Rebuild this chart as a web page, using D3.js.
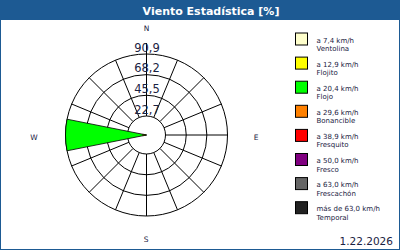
<!DOCTYPE html>
<html>
<head>
<meta charset="utf-8">
<script src="https://cdn.jsdelivr.net/npm/d3@7"></script>
<style>
  body { margin: 0; background: #fff; }
  svg { display: block; }
</style>
</head>
<body>
<svg id="chart" width="400" height="250"></svg>
<script>
// 16 wind directions, clockwise from N
var dirs = ["N","NNE","NE","ENE","E","ESE","SE","SSE","S","SSW","SW","WSW","W","WNW","NW","NNW"];

// speed bands (legend)
var bandLabels = ["a 7,4 km/h","a 12,9 km/h","a 20,4 km/h","a 29,6 km/h","a 38,9 km/h","a 50,0 km/h","a 63,0 km/h","más de 63,0 km/h"];
var bandNames = ["Ventolina","Flojito","Flojo","Bonancible","Fresquito","Fresco","Frescachón","Temporal"];
var bandColors = ["#ffffcc","#ffff00","#00ff00","#ff8000","#ff0000","#800080","#666666","#222222"];

// percent per direction for each band
var ventolina  = [0,0,0,0,0,0,0,0,0,0,0,0,1.5,0,0,0];
var flojito    = [0,0,0,0,0,0,0,0,0,0,0,0,4.5,0,0,0];
var flojo      = [0,0,0,0,0,0,0,0,0,0,0,0,84.9,0,0,0];
var bonancible = [0,0,0,0,0,0,0,0,0,0,0,0,0,0,0,0];
var fresquito  = [0,0,0,0,0,0,0,0,0,0,0,0,0,0,0,0];
var fresco     = [0,0,0,0,0,0,0,0,0,0,0,0,0,0,0,0];
var frescachon = [0,0,0,0,0,0,0,0,0,0,0,0,0,0,0,0];
var temporal   = [0,0,0,0,0,0,0,0,0,0,0,0,0,0,0,0];
var bandValues = [ventolina, flojito, flojo, bonancible, fresquito, fresco, frescachon, temporal];

var ringTicks = [22.7, 45.5, 68.2, 90.9];
var dateLabel = "1.22.2026";

var svg = d3.select("#chart");
var W = 400, H = 250;

// frame + title bar
svg.append("rect").attr("x", 0.5).attr("y", 0.5).attr("width", W - 1).attr("height", H - 1)
  .attr("fill", "#fff").attr("stroke", "#1d5a93").attr("stroke-width", 1);
svg.append("rect").attr("x", 0).attr("y", 0).attr("width", W).attr("height", 20).attr("fill", "#1d5a93");
svg.append("text").attr("x", 211).attr("y", 14.5).attr("text-anchor", "middle")
  .attr("font-family", "DejaVu Sans").attr("font-weight", "bold").attr("font-size", 11)
  .attr("fill", "#fff").text("Viento Estadística [%]");

var cx = 146.5, cy = 135;
var r = d3.scaleLinear().domain([22.7, 90.9]).range([19, 81]);
var rr = function(v) { return Math.max(0, r(v)); };
var step = 2 * Math.PI / dirs.length;

var g = svg.append("g").attr("transform", "translate(" + cx + "," + cy + ")");

// rings
g.selectAll("circle.ring").data(ringTicks).enter().append("circle")
  .attr("class", "ring").attr("r", d => r(d))
  .attr("fill", "none").attr("stroke", "#000").attr("stroke-width", 1);

// spokes
var rIn = r(ringTicks[0]), rOut = r(ringTicks[ringTicks.length - 1]);
g.selectAll("line.spoke").data(dirs).enter().append("line")
  .attr("class", "spoke")
  .attr("x1", (d, i) => rIn * Math.sin(i * step))
  .attr("y1", (d, i) => -rIn * Math.cos(i * step))
  .attr("x2", (d, i) => (i === 0 ? rOut + 11 : rOut) * Math.sin(i * step))
  .attr("y2", (d, i) => -(i === 0 ? rOut + 11 : rOut) * Math.cos(i * step))
  .attr("stroke", "#000").attr("stroke-width", 1);

// stacked wedges
var arc = d3.arc();
var stacked = [];
dirs.forEach(function(d, i) {
  var acc = 0;
  bandValues.forEach(function(vals, b) {
    if (vals[i] > 0) {
      stacked.push({ dir: i, band: b, v0: acc, v1: acc + vals[i] });
      acc += vals[i];
    }
  });
});
// draw outer pieces first so inner ones sit on top
stacked.sort((a, b) => b.v1 - a.v1);
g.selectAll("path.wedge").data(stacked).enter().append("path")
  .attr("class", "wedge")
  .attr("d", d => arc({ innerRadius: 0, outerRadius: rr(d.v1),
    startAngle: d.dir * step - step / 2, endAngle: d.dir * step + step / 2 }))
  .attr("fill", d => bandColors[d.band])
  .attr("stroke", "#000").attr("stroke-width", 0.8);

// ring labels
g.selectAll("text.tick").data(ringTicks).enter().append("text")
  .attr("class", "tick").attr("x", 0.5).attr("y", d => -r(d) - 2.5)
  .attr("text-anchor", "middle")
  .attr("font-family", "DejaVu Sans").attr("font-size", 11.5)
  .attr("fill", "#1a2242")
  .text(d => String(d).replace(".", ","));

// compass letters
var compass = [["N", 0, -107], ["E", 109.5, 2.5], ["S", -0.5, 104], ["W", -112.5, 2.5]];
g.selectAll("text.compass").data(compass).enter().append("text")
  .attr("class", "compass").attr("x", d => d[1]).attr("y", d => d[2] + 2.5)
  .attr("text-anchor", "middle")
  .attr("font-family", "DejaVu Sans").attr("font-size", 7.5)
  .attr("fill", "#1a2242").text(d => d[0]);

// legend
var leg = svg.append("g").selectAll("g").data(bandLabels).enter().append("g")
  .attr("transform", (d, i) => "translate(295," + (32.5 + i * 24.1) + ")");
leg.append("rect").attr("x", 0.5).attr("y", 0.5).attr("width", 12).attr("height", 12)
  .attr("fill", (d, i) => bandColors[i]).attr("stroke", "#000").attr("stroke-width", 1);
leg.append("text").attr("x", 21.5).attr("y", 10)
  .attr("font-family", "DejaVu Sans").attr("font-size", 7)
  .attr("fill", "#1a2242").text(d => d);
leg.append("text").attr("x", 21.5).attr("y", 18.5)
  .attr("font-family", "DejaVu Sans").attr("font-size", 7)
  .attr("fill", "#1a2242").text((d, i) => bandNames[i]);

// date
svg.append("text").attr("x", 393).attr("y", 245).attr("text-anchor", "end")
  .attr("font-family", "DejaVu Sans").attr("font-size", 10.5)
  .attr("fill", "#1a2242").text(dateLabel);
</script>
</body>
</html>
